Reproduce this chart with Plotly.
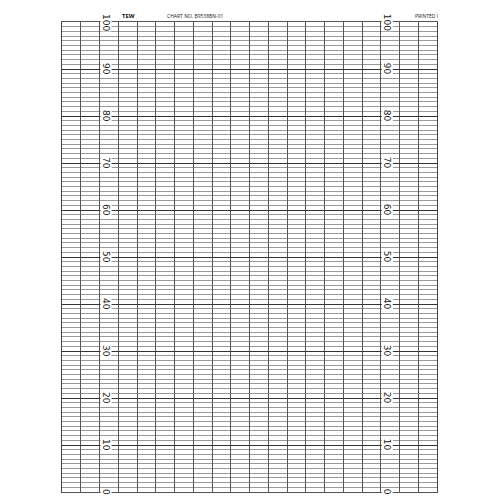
import plotly.graph_objects as go

# Chart paper scale ============================================================
scale_values = [0, 10, 20, 30, 40, 50, 60, 70, 80, 90, 100]
scale_labels = [str(v) for v in scale_values]
label_columns = [2.35, 17.35]   # columns where the scale is printed
header_texts = ["TEW", "CHART NO. B9538BN-01", "PRINTED I"]

fig = go.Figure(layout = {
    "paper_bgcolor" : "white",
    "plot_bgcolor"  : "white"
})

# scale numbers, rotated like on the paper
for col in label_columns:
    for v, lab in zip(scale_values, scale_labels):
        fig.add_annotation(x = col, y = v, text = lab, textangle = 90,
                           showarrow = False, bgcolor = "white",
                           font = dict(family = "DejaVu Sans", size = 9, color = "#222"),
                           borderpad = 0)

# header
fig.add_annotation(x = 3.55, y = 100, yshift = 6, text = "<b>" + header_texts[0] + "</b>",
                   showarrow = False, font = dict(size = 6, color = "#111"))
fig.add_annotation(x = 7.1, y = 100, yshift = 6, text = header_texts[1],
                   showarrow = False, font = dict(size = 5, color = "#222"))
fig.add_annotation(x = 19.45, y = 100, yshift = 6, text = header_texts[2],
                   showarrow = False, font = dict(size = 5, color = "#222"))

fig.update_layout(
    width = 500, height = 500,
    margin = dict(l = 54, r = 71, t = 14, b = 16),
    showlegend = False,
    xaxis = dict(range = [0, 20], dtick = 1, showgrid = True, gridcolor = "#555",
                 gridwidth = 1, showticklabels = False, zeroline = False,
                 showline = True, linecolor = "#555", mirror = True, fixedrange = True),
    yaxis = dict(range = [0, 100], dtick = 10, showgrid = True, gridcolor = "#333",
                 gridwidth = 1.3, showticklabels = False, zeroline = False,
                 showline = True, linecolor = "#444", mirror = True,
                 minor = dict(dtick = 1, showgrid = True, gridcolor = "#999", gridwidth = 1)),
)

fig.write_html("out.html")
